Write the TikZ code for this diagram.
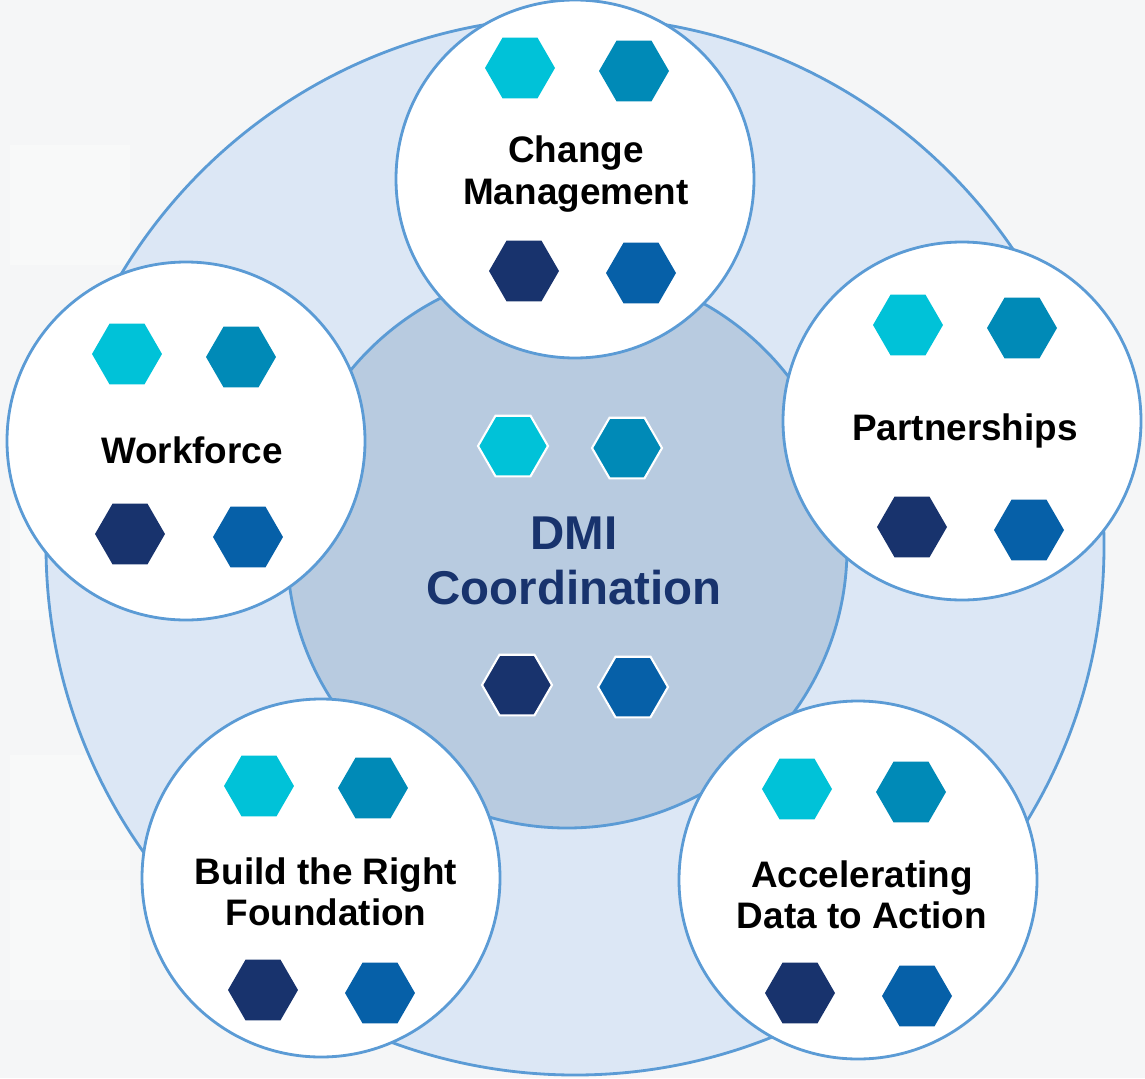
\documentclass[tikz,border=0pt]{standalone}
\usepackage{fontspec}
\setmainfont{Liberation Sans}
\usetikzlibrary{shapes.geometric}

\definecolor{pagebg}{HTML}{F5F6F7}
\definecolor{ringfill}{HTML}{DCE7F5}
\definecolor{corefill}{HTML}{B8CBE0}
\definecolor{rim}{HTML}{5B9BD5}
\definecolor{hexcyan}{HTML}{00C2D8}
\definecolor{hexteal}{HTML}{008AB7}
\definecolor{hexnavy}{HTML}{18336D}
\definecolor{hexblue}{HTML}{0660A8}

\begin{document}
\begin{tikzpicture}[x=0.02cm, y=-0.02cm,
  pillar/.style={circle, draw=rim, line width=1.6pt, fill=white, minimum size=358*0.02cm, inner sep=0pt},
  hex/.style={regular polygon, regular polygon sides=6, minimum size=1.4cm, inner sep=0pt, outer sep=0pt},
  corehex/.style={hex, draw=white, line width=1.2pt},
  label/.style={align=center, font=\bfseries\fontsize{21}{23.5}\selectfont},
  corelabel/.style={align=center, text=hexnavy, font=\bfseries\fontsize{27}{31.5}\selectfont}]
\useasboundingbox (0,0) rectangle (1145,1078);
\fill[pagebg] (0,0) rectangle (1145,1078);
% faint tiles behind
\fill[white!30!pagebg] (10,145) rectangle (130,265);
\fill[white!30!pagebg] (10,500) rectangle (130,620);
\fill[white!30!pagebg] (10,755) rectangle (130,870);
\fill[white!30!pagebg] (10,880) rectangle (130,1000);

\node[circle, draw=rim, line width=1.6pt, fill=ringfill, minimum size=1058*0.02cm, inner sep=0pt] (ring) at (575,546) {};
\node[circle, draw=rim, line width=1.6pt, fill=corefill, minimum size=560*0.02cm, inner sep=0pt] (core) at (567,548) {};

\node[pillar] (change) at (575,179) {};
\node[pillar] (partner) at (962,421) {};
\node[pillar] (work) at (186,441) {};
\node[pillar] (build) at (321,878) {};
\node[pillar] (accel) at (858,880) {};

% hexagons, two rows per circle
\node[corehex, fill=hexcyan] (core1) at (513,446) {};
\node[corehex, fill=hexteal] (core2) at (627,448) {};
\node[corehex, fill=hexnavy] (core3) at (517,685) {};
\node[corehex, fill=hexblue] (core4) at (633,687) {};

\node[hex, fill=hexcyan] (change1) at (520,68) {};
\node[hex, fill=hexteal] (change2) at (634,71) {};
\node[hex, fill=hexnavy] (change3) at (524,271) {};
\node[hex, fill=hexblue] (change4) at (641,273) {};

\node[hex, fill=hexcyan] (partner1) at (908,325) {};
\node[hex, fill=hexteal] (partner2) at (1022,328) {};
\node[hex, fill=hexnavy] (partner3) at (912,527) {};
\node[hex, fill=hexblue] (partner4) at (1029,530) {};

\node[hex, fill=hexcyan] (work1) at (127,354) {};
\node[hex, fill=hexteal] (work2) at (241,357) {};
\node[hex, fill=hexnavy] (work3) at (130,534) {};
\node[hex, fill=hexblue] (work4) at (248,537) {};

\node[hex, fill=hexcyan] (build1) at (259,786) {};
\node[hex, fill=hexteal] (build2) at (373,788) {};
\node[hex, fill=hexnavy] (build3) at (263,990) {};
\node[hex, fill=hexblue] (build4) at (380,993) {};

\node[hex, fill=hexcyan] (accel1) at (797,789) {};
\node[hex, fill=hexteal] (accel2) at (911,792) {};
\node[hex, fill=hexnavy] (accel3) at (800,993) {};
\node[hex, fill=hexblue] (accel4) at (917,996) {};

% texts
\node[corelabel] (coretext) at (574,561) {DMI\\Coordination};
\node[label] (changetext) at (576,174) {Change\\Management};
\node[label] (partnertext) at (965,431) {Partnerships};
\node[label] (worktext) at (192,450) {Workforce};
\node[label] (buildtext) at (326,892) {Build the Right\\Foundation};
\node[label] (acceltext) at (862,895) {Accelerating\\Data to Action};
\end{tikzpicture}
\end{document}
